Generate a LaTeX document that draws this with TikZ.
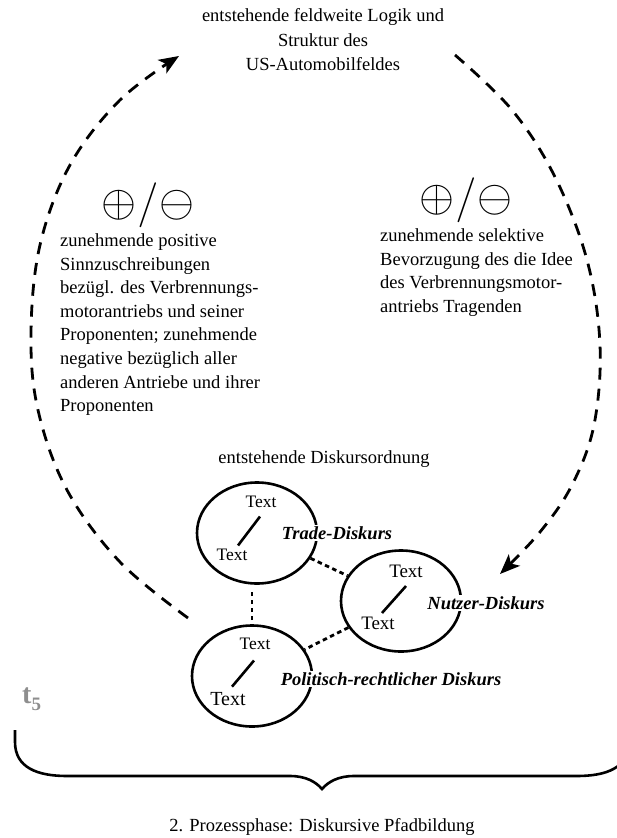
\RequirePackage{fix-cm}
\documentclass[tikz,border=0pt]{standalone}
\usepackage{fontspec}
\setmainfont{Liberation Serif}
\usetikzlibrary{arrows.meta,shapes.geometric,calc}
\definecolor{tgray}{HTML}{8E8E8E}
\begin{document}
\begin{tikzpicture}[x=1pt,y=-1pt,
  body/.style={font=\fontsize{18.5}{23.6}\selectfont, inner sep=0pt},
  disc/.style={draw, ellipse, line width=2.6pt, minimum width=120pt, minimum height=101pt, inner sep=0pt},
  lbl/.style={font=\fontsize{18.5}{22}\selectfont\bfseries\itshape, fill=white, inner sep=1pt},
  tx/.style={font=\fontsize{#1}{#1}\selectfont, inner sep=0.5pt},
  inner/.style={line width=2.6pt},
  link/.style={line width=2.8pt, dash pattern=on 4.5pt off 3.5pt},
  cyc/.style={line width=2.8pt, dash pattern=on 12pt off 9pt, -{Stealth[length=20pt,width=16pt,inset=5pt]}},
  pm/.style={font=\fontsize{45}{45}\selectfont, inner sep=0pt}
]
\useasboundingbox (0,0) rectangle (616,838);

% field level
\node[body, align=center, anchor=north, font=\fontsize{18.5}{24.6}\selectfont] (field) at (323,8.4)
  {entstehende feldweite Logik und\\Struktur des\\US-Automobilfeldes};

% valuations
\node[pm] (lpm) at (148,205) {$\oplus\mkern0.5mu/\mkern0.5mu\ominus$};
\node[pm] (rpm) at (466,200) {$\oplus\mkern0.5mu/\mkern0.5mu\ominus$};
\node[body, align=left, anchor=north west] (lnote) at (60,233.4)
  {zunehmende positive\\Sinnzuschreibungen\\bezügl. des Verbrennungs-\\motorantriebs und seiner\\Proponenten; zunehmende\\negative bezüglich aller\\anderen Antriebe und ihrer\\Proponenten};
\node[body, align=left, anchor=north west] (rnote) at (380,228.4)
  {zunehmende selektive\\Bevorzugung des die Idee\\des Verbrennungsmotor-\\antriebs Tragenden};

% discourse order
\node[body] (order) at (324,459) {entstehende Diskursordnung};

\node[disc] (trade) at (257,533) {};
\node[disc] (nutzer) at (401,601) {};
\node[disc] (polit) at (252,676) {};

\node[tx=17.5] (tradeA) at (261,502) {Text};
\node[tx=17.5] (tradeB) at (232,555) {Text};
\node[tx=19] (nutzerA) at (406,571) {Text};
\node[tx=19] (nutzerB) at (378,623) {Text};
\node[tx=17.5] (politA) at (255,644) {Text};
\node[tx=20] (politB) at (228,699) {Text};

\draw[inner] ($(tradeA.south)+(-1,8)$) -- ($(tradeB.north)+(6,-3)$);
\draw[inner] ($(nutzerA.south)+(0,8)$) -- ($(nutzerB.north)+(4,-3)$);
\draw[inner] ($(politA.south)+(-1,10)$) -- ($(politB.north)+(4,-5)$);

\draw[link] (trade) -- (nutzer);
\draw[link, shorten <=4pt, shorten >=4pt] (polit.north) -- (polit.north |- trade.south);
\draw[link] (nutzer) -- (polit);

\node[lbl] (tradeL) at (337,533) {Trade-Diskurs};
\node[lbl] (nutzerL) at (486,603) {Nutzer-Diskurs};
\node[lbl] (politL) at (391,679) {Politisch-rechtlicher Diskurs};

% feedback cycle
\coordinate (upstart) at (188,618);
\coordinate (uptip) at (179,56);
\coordinate (downstart) at (455,55);
\coordinate (downtip) at (500,574);
\draw[cyc] plot[smooth, tension=0.6] coordinates {(upstart) (120,562) (67,490) (38,410) (31,333) (40,245) (70,165) (120,100) (uptip)};
\draw[cyc] plot[smooth, tension=0.6] coordinates {(downstart) (512,110) (555,177) (587,260) (600,345) (594,425) (572,485) (540,532) (downtip)};

% time mark
\node[font=\fontsize{28}{28}\selectfont\bfseries, text=tgray, anchor=base west, inner sep=0pt] (t5) at (22,703)
  {t\raisebox{-7pt}{\fontsize{19}{19}\selectfont 5}};

% phase brace
\draw[line width=2.6pt] (15,730) -- (15,742) .. controls (15,768) and (38,776) .. (67,776) -- (290,776)
  .. controls (306,776) and (316,782) .. (322,789) .. controls (328,782) and (338,776) .. (354,776)
  -- (577,776) .. controls (606,776) and (629,768) .. (629,742) -- (629,730);
\node[body] (phase) at (322,827) {2. Prozessphase: Diskursive Pfadbildung};
\end{tikzpicture}
\end{document}
